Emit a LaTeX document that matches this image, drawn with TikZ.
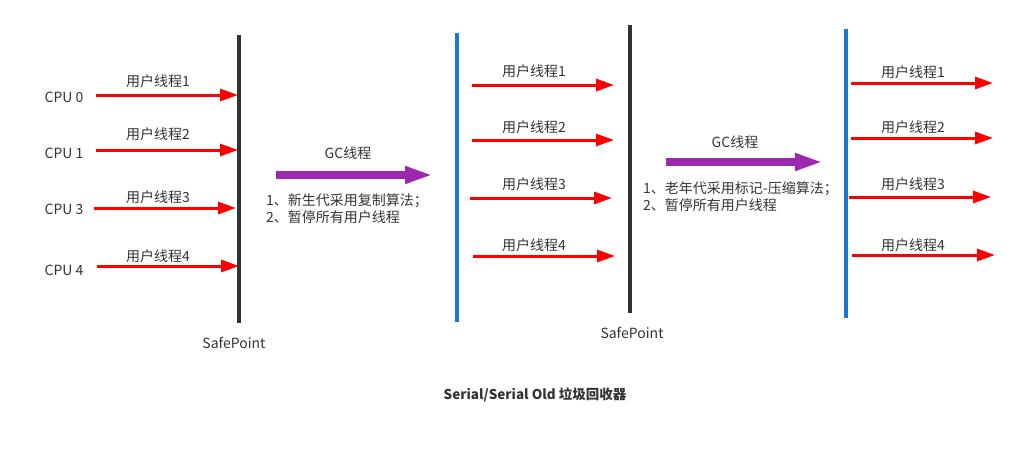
\documentclass[tikz,border=0pt]{standalone}
\usepackage{fontspec}
\setmainfont{Noto Sans CJK SC}
\usepackage{xcolor}
\usepackage{tikz}
\usetikzlibrary{arrows.meta, positioning}

\definecolor{txtgray}{HTML}{333333}
\definecolor{barblack}{HTML}{333333}
\definecolor{barblue}{HTML}{1976D2}
\definecolor{gcpurple}{HTML}{9C27B0}

\tikzset{
	lbl/.style={text=txtgray, font=\fontsize{14}{17}\selectfont, inner sep=0pt},
	thread/.style={draw=red, line width=3pt, -{Triangle[length=18pt, width=12pt]}},
	gcarrow/.style={draw=gcpurple, line width=8pt, -{Triangle[length=28pt, width=16pt]}},
	safebar/.style={draw=barblack, line width=4pt},
	runbar/.style={draw=barblue, line width=4pt}
}

\begin{document}
\begin{tikzpicture}[x=1pt, y=-1pt]
		\useasboundingbox (0,0) rectangle (1017,452);

		% Bars
		\coordinate (sp_one_top) at (239,35);   \coordinate (sp_one_bot) at (239,323);
		\coordinate (run_one_top) at (457,33);  \coordinate (run_one_bot) at (457,322);
		\coordinate (sp_two_top) at (630,25);   \coordinate (sp_two_bot) at (630,313);
		\coordinate (run_two_top) at (846,29);  \coordinate (run_two_bot) at (846,318);
		\draw[safebar] (sp_one_top) -- (sp_one_bot);
		\draw[runbar] (run_one_top) -- (run_one_bot);
		\draw[safebar] (sp_two_top) -- (sp_two_bot);
		\draw[runbar] (run_two_top) -- (run_two_bot);

		\node[lbl] (sp_one) at (234,343) {SafePoint};
		\node[lbl] (sp_two) at (632,333) {SafePoint};

		% CPUs
		\node[lbl] (cpu_a) at (64,97) {CPU 0};
		\node[lbl] (cpu_b) at (64,153) {CPU 1};
		\node[lbl] (cpu_c) at (64,209) {CPU 3};
		\node[lbl] (cpu_d) at (64,270) {CPU 4};

		% First user threads
		\coordinate (a_one_s) at (96,95);  \coordinate (a_one_e) at (238,95);
		\coordinate (b_one_s) at (96,150); \coordinate (b_one_e) at (238,150);
		\coordinate (c_one_s) at (94,208); \coordinate (c_one_e) at (236,208);
		\coordinate (d_one_s) at (97,266); \coordinate (d_one_e) at (239,266);
		\draw[thread] (a_one_s) -- (a_one_e);
		\draw[thread] (b_one_s) -- (b_one_e);
		\draw[thread] (c_one_s) -- (c_one_e);
		\draw[thread] (d_one_s) -- (d_one_e);
		\node[lbl] (a_one) at (158,81) {用户线程1};
		\node[lbl] (b_one) at (158,134) {用户线程2};
		\node[lbl] (c_one) at (158,197) {用户线程3};
		\node[lbl] (d_one) at (158,256) {用户线程4};

		% First GC thread
		\coordinate (gc_one_s) at (276,175); \coordinate (gc_one_e) at (433,175);
		\draw[gcarrow] (gc_one_s) -- (gc_one_e);
		\node[lbl] (gc_one) at (348,153) {GC线程};
		\node[lbl, align=left, anchor=west] (gc_one_txt) at (266,208.5) {1、新生代采用复制算法；\\2、暂停所有用户线程};

		% Second user threads
		\coordinate (a_two_s) at (472,85);  \coordinate (a_two_e) at (614,85);
		\coordinate (b_two_s) at (472,140); \coordinate (b_two_e) at (614,140);
		\coordinate (c_two_s) at (470,198); \coordinate (c_two_e) at (612,198);
		\coordinate (d_two_s) at (473,256); \coordinate (d_two_e) at (615,256);
		\draw[thread] (a_two_s) -- (a_two_e);
		\draw[thread] (b_two_s) -- (b_two_e);
		\draw[thread] (c_two_s) -- (c_two_e);
		\draw[thread] (d_two_s) -- (d_two_e);
		\node[lbl] (a_two) at (534,71) {用户线程1};
		\node[lbl] (b_two) at (534,127) {用户线程2};
		\node[lbl] (c_two) at (534,184) {用户线程3};
		\node[lbl] (d_two) at (534,245) {用户线程4};

		% Second GC thread
		\coordinate (gc_two_s) at (666,162); \coordinate (gc_two_e) at (823,162);
		\draw[gcarrow] (gc_two_s) -- (gc_two_e);
		\node[lbl] (gc_two) at (735,142) {GC线程};
		\node[lbl, align=left, anchor=west] (gc_two_txt) at (643,196.5) {1、老年代采用标记-压缩算法；\\2、暂停所有用户线程};

		% Third user threads
		\coordinate (a_three_s) at (851,83);  \coordinate (a_three_e) at (993,83);
		\coordinate (b_three_s) at (851,138); \coordinate (b_three_e) at (993,138);
		\coordinate (c_three_s) at (849,197); \coordinate (c_three_e) at (991,197);
		\coordinate (d_three_s) at (852,255); \coordinate (d_three_e) at (995,255);
		\draw[thread] (a_three_s) -- (a_three_e);
		\draw[thread] (b_three_s) -- (b_three_e);
		\draw[thread] (c_three_s) -- (c_three_e);
		\draw[thread] (d_three_s) -- (d_three_e);
		\node[lbl] (a_three) at (913,72) {用户线程1};
		\node[lbl] (b_three) at (913,127) {用户线程2};
		\node[lbl] (c_three) at (913,184) {用户线程3};
		\node[lbl] (d_three) at (913,245) {用户线程4};

		% Title
		\node[lbl, font=\fontsize{13.5}{17}\selectfont\bfseries] (title) at (535,395) {Serial/Serial Old 垃圾回收器};
	\end{tikzpicture}
\end{document}
